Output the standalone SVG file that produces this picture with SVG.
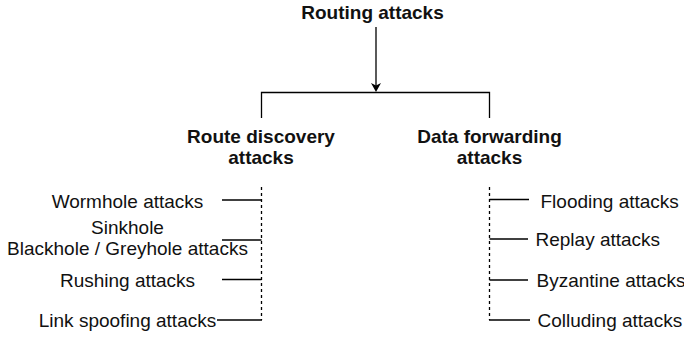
<svg xmlns="http://www.w3.org/2000/svg" width="684" height="337" viewBox="0 0 684 337">
  <style>
    .t { font-family: "Liberation Sans", Arial, sans-serif; font-size: 19px; fill: #111; }
    .b { font-weight: bold; text-anchor: middle; }
    .m { text-anchor: middle; }
    .s { text-anchor: start; }
    .ln { stroke: #000; stroke-width: 1.3; fill: none; }
    .dash { stroke: #000; stroke-width: 1.3; fill: none; stroke-dasharray: 3 3; }
  </style>
  <rect width="684" height="337" fill="#fff"/>
  <g id="connectors">
    <line class="ln" x1="376" y1="27" x2="376" y2="86"/>
    <polygon points="376,92 371,83 376,85.5 381,83" fill="#000"/>
    <polyline class="ln" points="261.5,118 261.5,92.5 489.5,92.5 489.5,118"/>
    <line class="dash" x1="261.5" y1="187" x2="261.5" y2="320"/>
    <line class="ln" x1="222" y1="200" x2="261.5" y2="200"/>
    <line class="ln" x1="222" y1="240" x2="261.5" y2="240"/>
    <line class="ln" x1="222" y1="279.5" x2="261.5" y2="279.5"/>
    <line class="ln" x1="217" y1="320" x2="262" y2="320"/>
    <line class="dash" x1="489.5" y1="187" x2="489.5" y2="320"/>
    <line class="ln" x1="489.5" y1="199.5" x2="529" y2="199.5"/>
    <line class="ln" x1="489.5" y1="239" x2="528" y2="239"/>
    <line class="ln" x1="489.5" y1="280" x2="528" y2="280"/>
    <line class="ln" x1="489" y1="320" x2="530" y2="320"/>
  </g>
  <g id="routing-attacks"><text class="t b" x="372.5" y="18.5">Routing attacks</text></g>
  <g id="route-discovery">
    <text class="t b" x="261" y="143">Route discovery</text>
    <text class="t b" x="261" y="164">attacks</text>
  </g>
  <g id="data-forwarding">
    <text class="t b" x="489.5" y="143">Data forwarding</text>
    <text class="t b" x="489.5" y="164">attacks</text>
  </g>
  <g id="wormhole"><text class="t m" x="127.5" y="207.5">Wormhole attacks</text></g>
  <g id="sinkhole">
    <text class="t m" x="127.5" y="233.5">Sinkhole</text>
    <text class="t m" x="127.5" y="255">Blackhole / Greyhole attacks</text>
  </g>
  <g id="rushing"><text class="t m" x="127.5" y="287">Rushing attacks</text></g>
  <g id="link-spoofing"><text class="t m" x="127.5" y="327">Link spoofing attacks</text></g>
  <g id="flooding"><text class="t s" x="540.5" y="207.5">Flooding attacks</text></g>
  <g id="replay"><text class="t s" x="535.5" y="246">Replay attacks</text></g>
  <g id="byzantine"><text class="t s" x="536.5" y="287">Byzantine attacks</text></g>
  <g id="colluding"><text class="t s" x="537.5" y="327">Colluding attacks</text></g>
</svg>
